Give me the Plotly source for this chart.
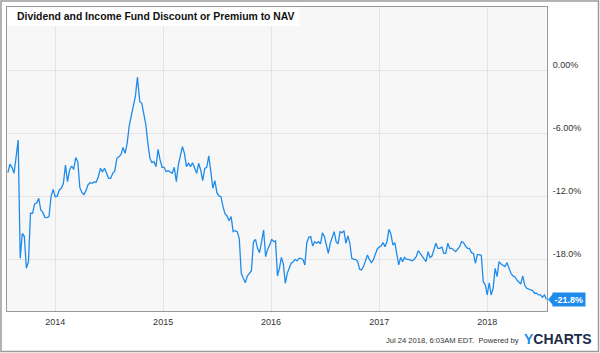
import pandas as pd
import plotly.graph_objects as go

# ---- data (discount/premium to NAV, %) ----
seg1_start, seg1_end = "2013-07-25", "2014-10-06"
seg1_values = [-9.71, -8.89, -9.2, -9.77, -8.2, -6.6, -17.87, -15.5, -15.8, -18.82, -18.19, -13.58,
               -13.58, -12.7, -12.6, -12.15, -13.27, -13.5, -13.97, -14.0, -13.9, -12.0, -11.3, -12.0,
               -11.95, -11.36, -11.2, -10.73, -8.98, -10.57, -9.46, -9.08, -9.4, -8.28, -8.67, -11.14,
               -11.6, -11.8, -11.4, -10.86, -10.67, -10.73, -10.6, -10.6, -10.1, -9.3, -9.62, -9.3,
               -9.77, -10.25, -10.25, -9.77, -9.55, -8.35, -8.19, -8.0, -7.3, -7.87, -6.92, -5.27,
               -4.31, -3.27, -2.48, -0.6]

seg2_start, seg2_end = "2014-10-14", "2016-01-10"
seg2_values = [-2.95, -3.1, -4.22, -5.17, -6.92, -8.35, -8.76, -8.67, -9.14, -7.49, -8.5, -9.2,
               -9.2, -9.62, -9.52, -9.62, -9.77, -9.2, -10.57, -8.98, -8.19, -7.24, -7.87, -9.14,
               -8.82, -9.14, -8.76, -9.3, -9.77, -8.82, -9.46, -10.48, -9.3, -9.2, -8.1, -9.62,
               -11.2, -10.48, -11.62, -11.93, -12.0, -12.95, -13.65, -13.83, -14.29, -13.9, -15.33,
               -15.24, -15.33, -15.96, -19.3, -19.77, -20.19, -19.55, -19.3, -19.05, -16.29, -16.06,
               -16.92, -17.33, -16.29, -15.17, -17.71, -17.0, -16.6, -16.06, -16.29]

seg3_start, seg3_end = "2016-01-16", "2017-04-03"
seg3_values = [-16.2, -19.55, -18.82, -17.78, -18.41, -20.25, -19.3, -18.82, -18.34, -18.19, -17.97,
               -18.12, -17.87, -17.87, -17.97, -18.5, -16.38, -15.87, -15.81, -16.7, -16.29, -16.44,
               -16.29, -16.5, -15.43, -15.81, -16.7, -17.39, -16.44, -15.81, -15.33, -16.29, -16.5,
               -15.33, -15.43, -15.24, -16.44, -15.74, -16.44, -17.87, -17.97, -17.97, -18.19, -18.91,
               -18.98, -18.66, -18.19, -17.55, -17.97, -18.28, -18.03, -17.39, -17.0, -16.8, -16.7,
               -16.38, -16.76, -16.29, -15.11, -15.55, -16.6, -16.38, -17.65, -18.5, -17.78, -18.19,
               -17.78, -17.97]

seg4_start, seg4_end = "2017-04-09", "2018-07-20"
seg4_values = [-17.97, -18.03, -18.1, -17.97, -17.72, -17.14, -17.4, -17.55, -17.87, -18.19, -17.24,
               -17.78, -17.65, -17.08, -16.44, -16.92, -16.92, -16.8, -17.4, -17.4, -16.44, -16.92,
               -16.92, -17.08, -17.24, -17.0, -16.76, -16.29, -16.38, -16.7, -16.92, -16.92, -17.33,
               -17.4, -18.34, -17.52, -17.52, -17.6, -20.1, -20.4, -21.36, -20.2, -21.36, -20.73,
               -18.82, -19.62, -18.19, -18.41, -18.5, -18.66, -18.28, -18.72, -19.3, -19.55, -19.62,
               -19.93, -20.1, -20.32, -19.55, -20.41, -20.73, -20.83, -20.9, -20.95, -21.2, -21.2,
               -21.36, -21.36, -21.58, -21.36, -21.8]

year_ticks = ["2014-01-01", "2015-01-01", "2016-01-01", "2017-01-01", "2018-01-01"]
year_labels = ["2014", "2015", "2016", "2017", "2018"]
y_ticks = [0, -6, -12, -18]
y_labels = ["0.00%", "-6.00%", "-12.0%", "-18.0%"]
last_label = "-21.8%"
title_text = "Dividend and Income Fund Discount or Premium to NAV"
footer_text = "Jul 24 2018, 6:03AM EDT.  Powered by"

segments = [(seg1_start, seg1_end, seg1_values), (seg2_start, seg2_end, seg2_values),
            (seg3_start, seg3_end, seg3_values), (seg4_start, seg4_end, seg4_values)]
dates, values = [], []
for s, e, v in segments:
    dates.extend(pd.date_range(s, e, periods=len(v)))
    values.extend(v)

# ---- styling ----
W, H = 600, 353
ML, MR, MT, MB = 7, 53, 7, 42
PW, PH = W - ML - MR, H - MT - MB
FONT = "Liberation Sans, Arial, Helvetica, sans-serif"
BLUE = "#1f8ceb"


def px_x(p):
    return (p - ML) / PW


def px_y(p):
    return (H - MB - p) / PH


fig = go.Figure()
fig.add_trace(go.Scatter(x=dates, y=values, mode="lines",
                         line=dict(color=BLUE, width=1.3), hoverinfo="skip", showlegend=False))

fig.update_layout(
    width=W, height=H,
    margin=dict(l=ML, r=MR, t=MT, b=MB),
    paper_bgcolor="white",
    plot_bgcolor="#f7f7f7",
    font=dict(family=FONT, color="#333", size=9),
    xaxis=dict(range=["2013-07-22", "2018-07-22"], tickvals=year_ticks, ticktext=year_labels,
               showgrid=True, gridcolor="#e4e4e4", gridwidth=1, zeroline=False,
               showline=True, linecolor="#9a9a9a", linewidth=1, mirror=True,
               ticks="", ticklabelstandoff=2, tickfont=dict(size=9, color="#333")),
    yaxis=dict(range=[-22.89, 6.07], side="right", tickvals=y_ticks, ticktext=y_labels,
               showgrid=True, gridcolor="#e4e4e4", gridwidth=1, zeroline=False,
               showline=True, linecolor="#9a9a9a", linewidth=1, mirror=True,
               ticks="", ticklabelstandoff=3, ticklabelshift=-6, tickfont=dict(size=9, color="#333")),
    shapes=[
        # outer frame
        dict(type="rect", xref="paper", yref="paper", x0=px_x(1), x1=px_x(598.5), y0=px_y(351.5), y1=px_y(1),
             line=dict(color="#9a9a9a", width=1.5), fillcolor="rgba(0,0,0,0)", layer="above"),
        # title box
        dict(type="rect", xref="paper", yref="paper", x0=px_x(7.5), x1=px_x(299), y0=px_y(26), y1=px_y(7.5),
             line=dict(width=0), fillcolor="white", layer="above"),
        # badge pointer
        dict(type="path", xref="paper", yref="y",
             path=f"M {px_x(548)} {values[-1]} L {px_x(553)} {values[-1] + 0.55} L {px_x(553)} {values[-1] - 0.55} Z",
             line=dict(width=0), fillcolor=BLUE, layer="above"),
    ],
    annotations=[
        dict(text=f"<b>{title_text}</b>", xref="paper", yref="paper", x=px_x(15), y=px_y(16.5),
             xanchor="left", yanchor="middle", showarrow=False,
             font=dict(family=FONT, size=10.4, color="#111")),
        dict(text=f"<b>{last_label}</b>", xref="paper", yref="y", x=px_x(552.5), y=values[-1],
             xanchor="left", yanchor="middle", showarrow=False, bgcolor=BLUE, borderpad=1.5,
             font=dict(family=FONT, size=9, color="white")),
        dict(text=footer_text, xref="paper", yref="paper", x=px_x(521), y=px_y(340),
             xanchor="right", yanchor="middle", showarrow=False,
             font=dict(family=FONT, size=7.6, color="#333")),
        dict(text="<b><span style='color:#1f8ceb'>Y</span>CHARTS</b>", xref="paper", yref="paper",
             x=px_x(594), y=px_y(339), xanchor="right", yanchor="middle", showarrow=False,
             font=dict(family=FONT, size=14, color="#1c2b4a")),
    ],
)

fig.write_html("out.html")
